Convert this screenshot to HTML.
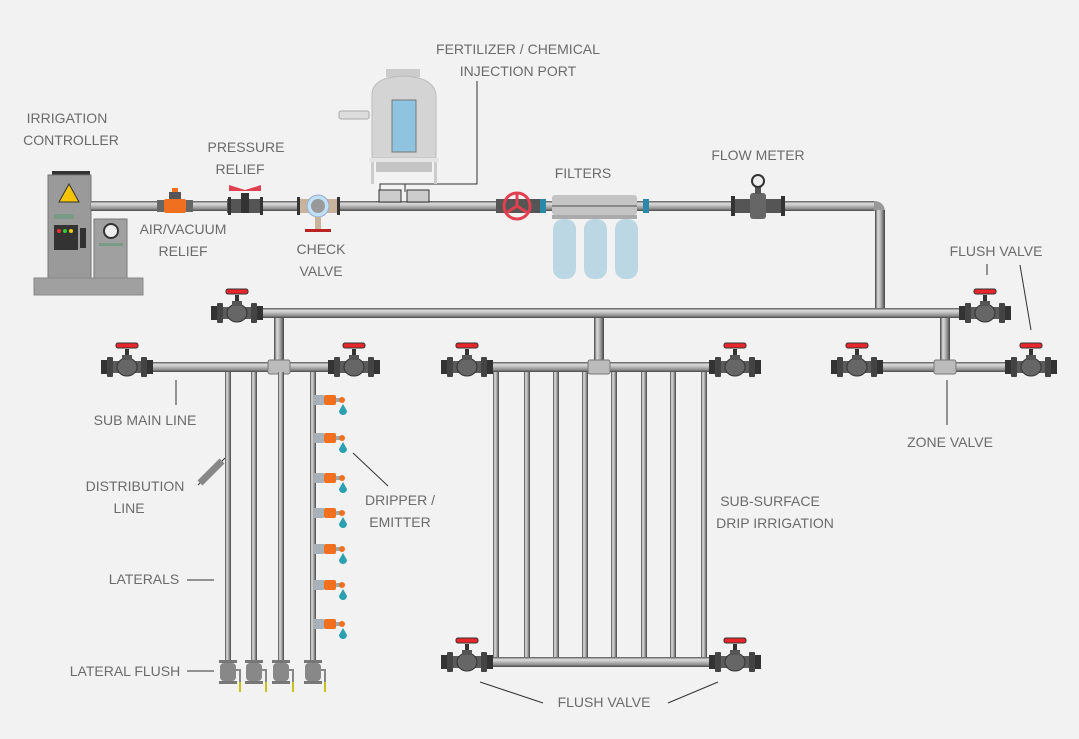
<!DOCTYPE html>
<html><head><meta charset="utf-8"><style>
html,body{margin:0;padding:0;background:#f2f2f2}
svg{display:block}
text{font-family:"Liberation Sans","DejaVu Sans",sans-serif;font-size:14px;fill:#6b6b6b;text-anchor:middle}
</style></head><body>
<svg width="1079" height="739" viewBox="0 0 1079 739" xmlns="http://www.w3.org/2000/svg">
<defs>
<linearGradient id="pg" x1="0" y1="0" x2="0" y2="1"><stop offset="0" stop-color="#555"/><stop offset=".25" stop-color="#ddd"/><stop offset=".5" stop-color="#bbb"/><stop offset=".8" stop-color="#888"/><stop offset="1" stop-color="#444"/></linearGradient>
<linearGradient id="pv" x1="0" y1="0" x2="1" y2="0"><stop offset="0" stop-color="#444"/><stop offset=".3" stop-color="#ddd"/><stop offset=".6" stop-color="#aaa"/><stop offset="1" stop-color="#444"/></linearGradient>
<g id="valve">
<rect x="-26" y="-7" width="6" height="14" fill="#333"/>
<rect x="-20" y="-10" width="6" height="20" rx="1" fill="#444"/>
<rect x="14" y="-10" width="6" height="20" rx="1" fill="#444"/>
<rect x="20" y="-7" width="6" height="14" fill="#333"/>
<rect x="-14" y="-6" width="28" height="12" fill="#5b5b5b"/>
<ellipse cx="0" cy="0" rx="10" ry="9" fill="#666" stroke="#333"/>
<rect x="-2" y="-18" width="4" height="10" fill="#333"/>
<rect x="-5" y="-12" width="10" height="5" fill="#555"/>
<rect x="-11" y="-24" width="22" height="5" rx="2" fill="#e8252b" stroke="#333" stroke-width="1"/>
</g>
<g id="drip">
<rect x="0" y="-5" width="10" height="10" fill="#a8b0b8"/>
<rect x="10" y="-5" width="12" height="10" rx="2" fill="#f07020"/>
<rect x="22" y="-2" width="4" height="4" fill="#9aa"/>
<circle cx="28" cy="0" r="3" fill="#f07020"/>
<path d="M29 4 L25 11 A4 4 0 1 0 33 11 Z" fill="#2aa0b0"/>
</g>
<g id="flush">
<rect x="-9" y="-8" width="18" height="3" fill="#777"/>
<rect x="-8" y="-5" width="16" height="18" rx="4" fill="#888"/>
<rect x="-9" y="13" width="18" height="3" fill="#777"/>
<path d="M8 2 h4 v12" fill="none" stroke="#888" stroke-width="2"/>
<rect x="11" y="14" width="2" height="10" fill="#c8c020"/>
</g>
</defs>

<!-- labels -->
<text x="67" y="123">IRRIGATION</text><text x="71" y="145">CONTROLLER</text>
<text x="246" y="152">PRESSURE</text><text x="240" y="174">RELIEF</text>
<text x="183" y="234">AIR/VACUUM</text><text x="183" y="256">RELIEF</text>
<text x="321" y="254">CHECK</text><text x="321" y="276">VALVE</text>
<text x="518" y="54">FERTILIZER / CHEMICAL</text><text x="518" y="76">INJECTION PORT</text>
<text x="583" y="178">FILTERS</text>
<text x="758" y="160">FLOW METER</text>
<text x="996" y="256">FLUSH VALVE</text>
<text x="145" y="425">SUB MAIN LINE</text>
<text x="135" y="491">DISTRIBUTION</text><text x="129" y="513">LINE</text>
<text x="144" y="584">LATERALS</text>
<text x="125" y="676">LATERAL FLUSH</text>
<text x="400" y="505">DRIPPER /</text><text x="400" y="527">EMITTER</text>
<text x="770" y="506">SUB-SURFACE</text><text x="775" y="528">DRIP IRRIGATION</text>
<text x="950" y="447">ZONE VALVE</text>
<text x="604" y="707">FLUSH VALVE</text>

<!-- leader lines -->
<g stroke="#333" stroke-width="1" fill="none">
<path d="M477 81 V184 H380 V192"/><path d="M405 184 V192"/>
<path d="M176 380 V405"/>
<path d="M198 485 L225 458"/>
<path d="M187 580 H214"/>
<path d="M187 671 H214"/>
<path d="M353 453 L388 486"/>
<path d="M947 380 V425"/>
<path d="M987 264 V275"/><path d="M1020 265 L1031 330"/>
<path d="M480 682 L543 703"/><path d="M668 703 L718 682"/>
</g>

<!-- controller -->
<rect x="52" y="171" width="38" height="4" fill="#333"/>
<rect x="48" y="175" width="43" height="105" fill="#9a9a9a" stroke="#777"/>
<rect x="94" y="219" width="33" height="60" fill="#a0a0a0" stroke="#777"/>
<rect x="34" y="278" width="109" height="17" fill="#a0a0a0" stroke="#888"/>
<path d="M69 184 L59 202 L79 202 Z" fill="#f5c400" stroke="#333"/>
<rect x="54" y="214" width="20" height="5" fill="#7a9a88"/>
<rect x="54" y="225" width="24" height="25" fill="#333"/>
<circle cx="59" cy="231" r="2" fill="#e33"/><circle cx="65" cy="231" r="2" fill="#3c3"/><circle cx="71" cy="231" r="2" fill="#ec0"/>
<rect x="80" y="228" width="6" height="20" fill="#333"/>
<circle cx="111" cy="231" r="7" fill="#eee" stroke="#333" stroke-width="2"/>
<rect x="99" y="243" width="24" height="3" fill="#7a9a88"/>

<!-- main pipe -->
<rect x="91" y="201" width="783" height="10" fill="url(#pg)"/>
<path d="M874 206 Q880 206 880 212" fill="none" stroke="#999" stroke-width="10"/>
<rect x="875" y="210" width="10" height="100" fill="url(#pv)"/>
<!-- header -->
<rect x="230" y="308" width="770" height="10" fill="url(#pg)"/>
<rect x="274" y="318" width="10" height="45" fill="url(#pv)"/>
<rect x="594" y="318" width="10" height="45" fill="url(#pv)"/>
<rect x="940" y="318" width="10" height="45" fill="url(#pv)"/>
<!-- submains -->
<rect x="120" y="362" width="245" height="10" fill="url(#pg)"/>
<rect x="460" y="362" width="280" height="10" fill="url(#pg)"/>
<rect x="460" y="657" width="280" height="10" fill="url(#pg)"/>
<rect x="850" y="362" width="190" height="10" fill="url(#pg)"/>
<rect x="268" y="360" width="22" height="14" rx="2" fill="#bbb" stroke="#777"/>
<rect x="588" y="360" width="22" height="14" rx="2" fill="#bbb" stroke="#777"/>
<rect x="934" y="360" width="22" height="14" rx="2" fill="#bbb" stroke="#777"/>
<!-- SDI verticals -->
<g fill="url(#pv)">
<rect x="493" y="372" width="6" height="285"/><rect x="524" y="372" width="6" height="285"/>
<rect x="553" y="372" width="6" height="285"/><rect x="582" y="372" width="6" height="285"/>
<rect x="611" y="372" width="6" height="285"/><rect x="641" y="372" width="6" height="285"/>
<rect x="670" y="372" width="6" height="285"/><rect x="701" y="372" width="6" height="285"/>
<!-- laterals -->
<rect x="225" y="372" width="6" height="288"/><rect x="251" y="372" width="6" height="288"/>
<rect x="278" y="372" width="6" height="288"/><rect x="310" y="372" width="6" height="288"/>
</g>
<use href="#flush" x="228" y="668"/><use href="#flush" x="254" y="668"/>
<use href="#flush" x="281" y="668"/><use href="#flush" x="313" y="668"/>
<!-- distribution fitting -->
<path d="M200 483 L222 461" stroke="#888" stroke-width="7"/>
<!-- drippers -->
<use href="#drip" x="314" y="400"/><use href="#drip" x="314" y="438"/>
<use href="#drip" x="314" y="478"/><use href="#drip" x="314" y="513"/>
<use href="#drip" x="314" y="549"/><use href="#drip" x="314" y="585"/>
<use href="#drip" x="314" y="624"/>

<!-- valves -->
<use href="#valve" x="237" y="313"/><use href="#valve" x="985" y="313"/>
<use href="#valve" x="127" y="367"/><use href="#valve" x="354" y="367"/>
<use href="#valve" x="467" y="367"/><use href="#valve" x="735" y="367"/>
<use href="#valve" x="857" y="367"/><use href="#valve" x="1031" y="367"/>
<use href="#valve" x="467" y="662"/><use href="#valve" x="735" y="662"/>

<!-- air/vacuum -->
<rect x="157" y="200" width="36" height="12" fill="#666"/>
<rect x="164" y="199" width="22" height="14" rx="2" fill="#f07020"/>
<rect x="169" y="192" width="12" height="7" fill="#555"/><rect x="172" y="188" width="6" height="4" fill="#f07020"/>
<!-- pressure relief -->
<rect x="227" y="199" width="36" height="14" fill="#555"/>
<rect x="228" y="197" width="3" height="18" fill="#333"/><rect x="260" y="197" width="3" height="18" fill="#333"/>
<rect x="241" y="193" width="8" height="20" fill="#333"/>
<path d="M229 185 L245 190 L261 185 L261 191 L229 191 Z" fill="#e04050"/>
<!-- check valve -->
<rect x="298" y="199" width="40" height="14" fill="#c8b49a"/>
<rect x="297" y="197" width="3" height="18" fill="#333"/><rect x="337" y="197" width="3" height="18" fill="#333"/>
<circle cx="318" cy="206" r="11" fill="#bfe0f5" stroke="#9ac" /><circle cx="318" cy="206" r="7" fill="#999"/>
<rect x="315" y="217" width="6" height="12" fill="#c8b49a"/><rect x="305" y="229" width="26" height="3" fill="#b22"/>
<!-- tank -->
<rect x="386" y="69" width="34" height="8" fill="#ccc"/>
<path d="M372 95 Q372 77 403 76 Q434 77 436 95 V158 H372 Z" fill="#d4d4d4" stroke="#bbb"/>
<rect x="392" y="100" width="24" height="52" fill="#8ec4e0" stroke="#777"/>
<rect x="369" y="158" width="70" height="4" fill="#e4e4e4"/>
<rect x="376" y="162" width="56" height="10" fill="#c4c4c4"/>
<rect x="371" y="162" width="3" height="22" fill="#ccc"/><rect x="434" y="162" width="3" height="22" fill="#ccc"/>
<rect x="339" y="111" width="30" height="8" rx="2" fill="#ddd" stroke="#aaa"/>
<rect x="379" y="190" width="22" height="12" fill="#ccc" stroke="#333"/>
<rect x="407" y="190" width="22" height="12" fill="#ccc" stroke="#333"/>
<!-- gate valve -->
<rect x="496" y="199" width="44" height="14" fill="#555"/>
<circle cx="517" cy="206" r="13" fill="none" stroke="#e04050" stroke-width="3"/>
<path d="M517 193 V206 L506 213 M517 206 L528 213" stroke="#e04050" stroke-width="3" fill="none"/>
<rect x="540" y="199" width="6" height="14" fill="#2a88a8"/><rect x="643" y="199" width="6" height="14" fill="#2a88a8"/>
<!-- filters -->
<rect x="552" y="195" width="85" height="20" rx="3" fill="#c4c4c4"/>
<rect x="552" y="205" width="85" height="2" fill="#888"/>
<rect x="552" y="215" width="85" height="4" fill="#aaa"/>
<rect x="553" y="219" width="23" height="60" rx="10" fill="#bcd7e4"/>
<rect x="584" y="219" width="23" height="60" rx="10" fill="#bcd7e4"/>
<rect x="615" y="219" width="23" height="60" rx="10" fill="#bcd7e4"/>
<!-- flow meter -->
<rect x="732" y="199" width="52" height="14" fill="#555"/>
<rect x="731" y="196" width="4" height="20" fill="#333"/><rect x="781" y="196" width="4" height="20" fill="#333"/>
<rect x="750" y="193" width="16" height="26" rx="3" fill="#666"/>
<rect x="755" y="186" width="6" height="8" fill="#555"/>
<circle cx="758" cy="181" r="6" fill="#eee" stroke="#333" stroke-width="2"/>
</svg>
</body></html>
